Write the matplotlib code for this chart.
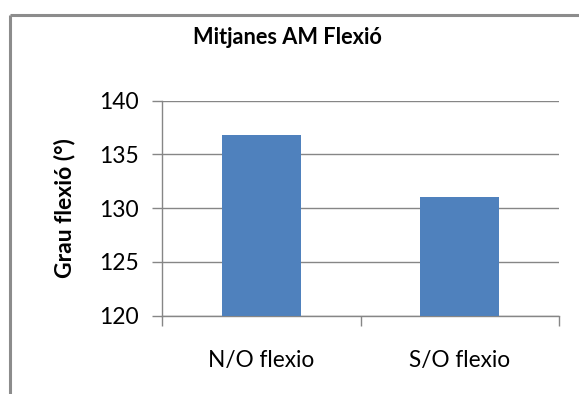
import matplotlib
matplotlib.use("Agg")
import matplotlib.pyplot as plt
from matplotlib.lines import Line2D

categories = ["N/O flexio", "S/O flexio"]
values = [136.8, 131.0]
y_ticks = [120, 125, 130, 135, 140]
title = "Mitjanes AM Flexió"
y_label = "Grau flexió (°)"

W, H = 579, 394
DPI = 100
plt.rcParams["font.family"] = ["Lato", "DejaVu Sans"]

fig = plt.figure(figsize=(W / DPI, H / DPI), dpi=DPI)
fig.patch.set_facecolor("white")

def fx(px):
    return px / W

def fy(py):
    return 1 - py / H

# chart frame (top and left edges)
border = "#8c8c8c"
fig.add_artist(Line2D([fx(10), fx(579)], [fy(14.5), fy(14.5)], color=border, lw=2.2,
                      transform=fig.transFigure, solid_capstyle="butt"))
fig.add_artist(Line2D([fx(10), fx(10)], [fy(14.5), fy(394)], color=border, lw=2.2,
                      transform=fig.transFigure, solid_capstyle="butt"))

left, right, top, bottom = 162, 559, 100.7, 315.7
ax = fig.add_axes([fx(left), fy(bottom), fx(right - left), (bottom - top) / H])

grid_c = "#868686"
x = list(range(len(categories)))
ax.bar(x, values, width=0.4, color="#4f81bd", zorder=3)
ax.set_xlim(-0.5, len(categories) - 0.5)
ax.set_ylim(y_ticks[0], y_ticks[-1])
ax.set_yticks(y_ticks)
ax.set_xticks(x)
ax.set_xticklabels(categories)
ax.set_xticks([-0.5, 0.5, 1.5], minor=True)
ax.tick_params(axis="x", which="major", length=0, pad=25, labelsize=16.3, labelcolor="black")
ax.tick_params(axis="x", which="minor", length=7, width=1, color=grid_c, direction="out")
ax.tick_params(axis="y", length=7, width=1, color=grid_c, direction="out", pad=10,
               labelsize=16.5, labelcolor="black")

ax.grid(axis="y", color=grid_c, lw=1, zorder=0)
for s in ["top", "right"]:
    ax.spines[s].set_visible(False)
for s in ["left", "bottom"]:
    ax.spines[s].set_color(grid_c)
    ax.spines[s].set_linewidth(1)

ax.set_ylabel(y_label, fontsize=16.5, fontweight="bold", labelpad=17)
fig.text(fx(287), fy(43.5), title, ha="center", va="baseline", fontsize=15.7, fontweight="bold")

fig.savefig("out.png", dpi=DPI, facecolor="white")
